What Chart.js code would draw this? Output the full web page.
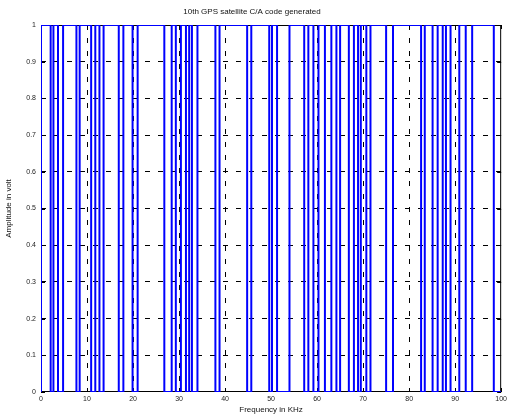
<!DOCTYPE html>
<html>
<head>
<meta charset="utf-8">
<script src="https://cdn.jsdelivr.net/npm/chart.js@4"></script>
<style>
  html, body { margin: 0; padding: 0; background: #fff; }
  #wrap { width: 510px; height: 417px; }
</style>
</head>
<body>
<div id="wrap"><canvas id="grafica"></canvas></div>
<script>
// --- Datos: flancos del código (x en kHz) y nivel tras cada flanco ---
const stepX = [0, 2.1, 2.7, 3.7, 4.8, 7.7, 8.4, 10.9, 11.8, 12.7, 13.6, 16.9, 17.9, 19.9, 21.0,
  26.8, 28.4, 29.3, 30.4, 31.5, 32.2, 32.8, 34.0, 37.9, 38.8, 44.8, 45.7, 49.6, 50.2,
  51.3, 54.0, 57.2, 58.1, 59.2, 60.3, 61.7, 63.1, 64.2, 65.0, 66.9, 68.0, 68.9, 69.5,
  70.7, 71.6, 75.0, 76.5, 82.6, 83.4, 85.1, 86.2, 87.3, 88.0, 89.0, 90.9, 92.3, 93.7,
  98.4, 99.5, 100];
const stepY = [0, 1, 0, 1, 0, 1, 0, 1, 0, 1, 0, 1, 0, 1, 0,
  1, 0, 1, 0, 1, 0, 1, 0, 1, 0, 1, 0, 1, 0,
  1, 0, 1, 0, 1, 0, 1, 0, 1, 0, 1, 0, 1, 0,
  1, 0, 1, 0, 1, 0, 1, 0, 1, 0, 1, 0, 1, 0,
  1, 0, 0];
const xTicks = [0, 10, 20, 30, 40, 50, 60, 70, 80, 90, 100];
const yTicks = [0, 0.1, 0.2, 0.3, 0.4, 0.5, 0.6, 0.7, 0.8, 0.9, 1];

const fuente = "'Liberation Sans', Arial, sans-serif";

// caja tipo MATLAB con marcas hacia dentro (debajo de la señal)
const cajaPlugin = {
    id: 'caja',
    beforeDatasetsDraw(chart) {
        const { ctx, chartArea: a, scales } = chart;
        ctx.save();
        ctx.strokeStyle = '#000';
        ctx.lineWidth = 1;
        ctx.setLineDash([]);
        ctx.strokeRect(a.left + 0.5, a.top + 0.5, a.right - a.left - 1, a.bottom - a.top - 1);
        ctx.beginPath();
        xTicks.forEach(v => {
            const px = Math.round(scales.x.getPixelForValue(v)) + 0.5;
            ctx.moveTo(px, a.bottom); ctx.lineTo(px, a.bottom - 4);
            ctx.moveTo(px, a.top); ctx.lineTo(px, a.top + 4);
        });
        yTicks.forEach(v => {
            const py = Math.round(scales.y.getPixelForValue(v)) + 0.5;
            ctx.moveTo(a.left, py); ctx.lineTo(a.left + 4, py);
            ctx.moveTo(a.right, py); ctx.lineTo(a.right - 4, py);
        });
        ctx.stroke();
        ctx.restore();
    }
};

const ctxGrafica = document.getElementById('grafica').getContext('2d');
new Chart(ctxGrafica, {
    type: 'line',
    data: {
        datasets: [{
            data: stepX.map((x, i) => ({ x: x, y: stepY[i] })),
            stepped: 'after',
            borderColor: '#0000ff',
            borderWidth: 2,
            pointRadius: 0,
            fill: false
        }]
    },
    options: {
        responsive: true,
        maintainAspectRatio: false,
        animation: false,
        layout: { padding: { left: 0, right: 6, top: 0, bottom: 0 } },
        plugins: {
            legend: { display: false },
            tooltip: { enabled: false },
            title: {
                display: true,
                text: '10th GPS satellite C/A code generated',
                color: '#111',
                font: { size: 8, family: fuente, weight: 'normal' },
                padding: { top: 7, bottom: 8.4 }
            }
        },
        scales: {
            x: {
                type: 'linear',
                min: 0,
                max: 100,
                afterBuildTicks: s => { s.ticks = xTicks.map(v => ({ value: v })); },
                afterFit: s => { s.height = 25; },
                ticks: { color: '#222', font: { size: 7, family: fuente }, padding: 3, maxRotation: 0,
                         callback: v => String(v) },
                grid: {
                    color: c => (c.tick && (c.tick.value === 0 || c.tick.value === 100)) ? 'rgba(0,0,0,0)' : '#000',
                    lineWidth: 1,
                    drawTicks: false
                },
                border: { display: false, dash: [5, 8] },
                title: {
                    display: true,
                    text: 'Frequency in KHz',
                    color: '#111',
                    font: { size: 8, family: fuente },
                    padding: { top: 0, bottom: 2 }
                }
            },
            y: {
                min: 0,
                max: 1,
                afterBuildTicks: s => { s.ticks = yTicks.map(v => ({ value: v })); },
                afterFit: s => { s.width = 41; },
                ticks: { color: '#222', font: { size: 7, family: fuente }, padding: 5,
                         callback: v => String(Math.round(v * 10) / 10) },
                grid: {
                    color: c => (c.tick && (c.tick.value === 0 || c.tick.value === 1)) ? 'rgba(0,0,0,0)' : '#000',
                    lineWidth: 1,
                    drawTicks: false
                },
                border: { display: false, dash: [5, 8] },
                title: {
                    display: true,
                    text: 'Amplitude in volt',
                    color: '#111',
                    font: { size: 8, family: fuente },
                    padding: { top: 4, bottom: 0 }
                }
            }
        }
    },
    plugins: [cajaPlugin]
});
</script>
</body>
</html>
